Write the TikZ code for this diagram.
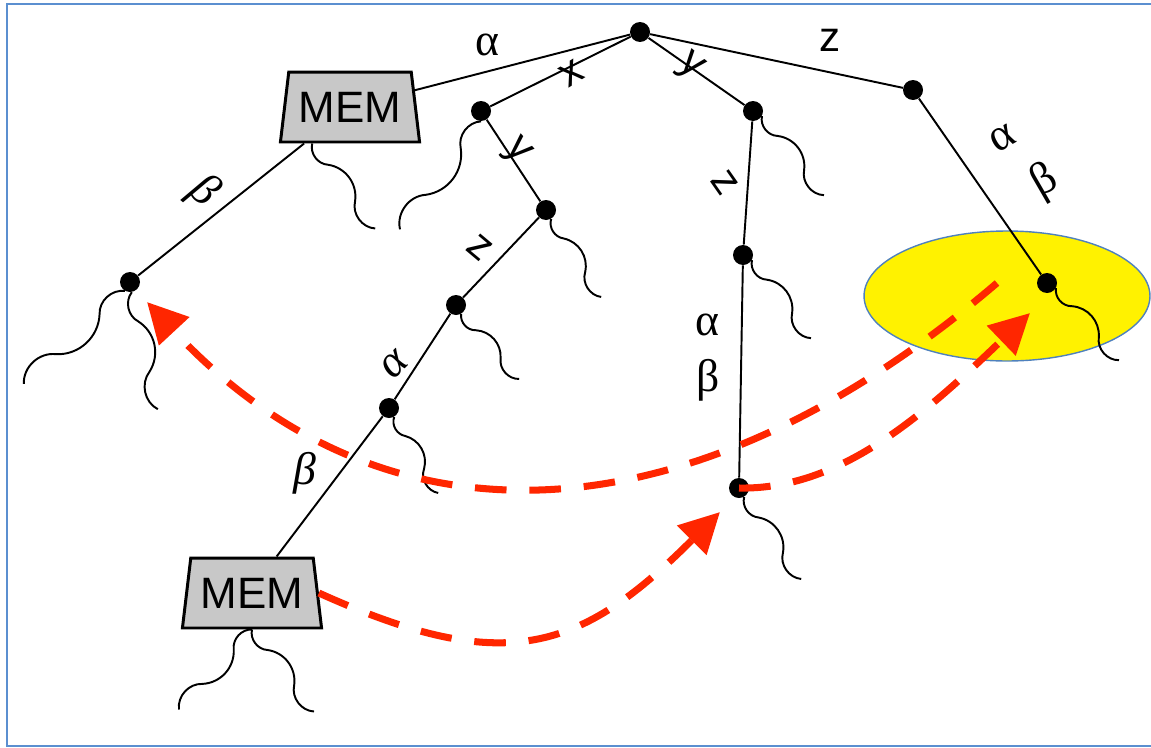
\documentclass[tikz,border=0pt]{standalone}
\usepackage{fontspec}
\setmainfont{Liberation Sans}
\newfontfamily\grkfont{Liberation Serif}
\usetikzlibrary{arrows.meta,calc,shapes.geometric}
\definecolor{JumpClr}{RGB}{255,38,0}
\definecolor{FrameClr}{RGB}{91,143,208}
\definecolor{RingClr}{RGB}{79,129,189}
\definecolor{MemClr}{RGB}{200,200,200}

% wavy hair hanging from a point: start, offset
\newcommand\wisp[2]{\draw[wisp] (#1) to[bend right=50] ($(#1)+0.25*(#2)$)
  to[bend left=45] ($(#1)+0.68*(#2)$) to[bend right=50] ($(#1)+(#2)$);}

\begin{document}
\begin{tikzpicture}[x=0.02cm,y=-0.02cm,
  dot/.style={circle,fill=black,inner sep=0pt,minimum size=0.4cm},
  mem/.style={trapezium,trapezium stretches=true,trapezium left angle=77,
    trapezium right angle=77,draw=black,line width=1.7pt,fill=MemClr,
    minimum width=2.8cm,minimum height=1.4cm,inner sep=0pt,
    font=\fontsize{25}{29}\selectfont},
  branch/.style={line width=1.1pt},
  wisp/.style={line width=1.1pt},
  jump/.style={JumpClr,line width=4pt,dash pattern=on 18pt off 13pt,
    -{Triangle[length=0.8cm,width=0.8cm]}},
  lbl/.style={inner sep=0pt,font=\fontsize{24}{28}\selectfont},
  glbl/.style={inner sep=0pt,font=\grkfont\fontsize{26}{30}\selectfont},
  ilbl/.style={inner sep=0pt,font=\grkfont\itshape\fontsize{26}{30}\selectfont}]
\useasboundingbox (0,0) rectangle (1151,747);
\draw[FrameClr,line width=1.6pt] (7,4) rectangle (1170,746);

% highlighted region
\node[ellipse,draw=RingClr,fill=yellow,line width=0.8pt,
  minimum width=5.72cm,minimum height=2.6cm] (ring) at (1007,296) {};

% tree nodes
\node[dot] (root) at (640,32) {};
\node[mem] (memA) at (350,107) {MEM};
\node[dot] (nx) at (481,111) {};
\node[dot] (ny) at (753,111) {};
\node[dot] (nz) at (913,90) {};
\node[dot] (nxy) at (546,210) {};
\node[dot] (nxyz) at (456,305) {};
\node[dot] (nxyza) at (389,408) {};
\node[mem] (memB) at (252,593) {MEM};
\node[dot] (nab) at (130,282) {};
\node[dot] (nyz) at (743,255) {};
\node[dot] (nyzab) at (739,488) {};
\node[dot] (nzab) at (1047,283) {};

% branches
\draw[branch] (root) -- (memA);
\draw[branch] (root) -- (nx);
\draw[branch] (root) -- (ny);
\draw[branch] (root) -- (nz);
\draw[branch] (nx) -- (nxy);
\draw[branch] (nxy) -- (nxyz);
\draw[branch] (nxyz) -- (nxyza);
\draw[branch] (nxyza) -- (memB.56);
\draw[branch] (memA) -- (nab);
\draw[branch] (ny) -- (nyz);
\draw[branch] (nyz) -- (nyzab);
\draw[branch] (nz) -- (nzab);

% hairs
\wisp{memA.-136}{63,85}
\wisp{nx.south}{-81,108}
\wisp{nxy.-60}{50,78}
\wisp{nxyz.-60}{58,65}
\wisp{nxyza.-60}{44,76}
\wisp{nab.-120}{-101,93}
\wisp{nab.-80}{26,117}
\wisp{ny.-30}{62,79}
\wisp{nyz.-30}{59,78}
\wisp{nyzab.-60}{57,82}
\wisp{nzab.-30}{63,72}
\wisp{memB.south}{-73,80}
\wisp{memB.south}{62,82}

% edge labels
\node[glbl] (lA) at (487,45) {α};
\node[lbl,rotate=32] (lx) at (572,73) {x};
\node[lbl,rotate=-40] (ly) at (690,67) {y};
\node[lbl] (lz) at (830,40) {z};
\node[lbl,rotate=-48] (lxy) at (517,152) {y};
\node[lbl,rotate=-40] (lxyz) at (480,248) {z};
\node[ilbl,rotate=45] (lxyza) at (395,365) {α};
\node[ilbl] (lxyzab) at (305,473) {β};
\node[ilbl,rotate=-40] (lAb) at (203,192) {β};
\node[lbl,rotate=-55] (lyz) at (725,183) {z};
\node[glbl] (lyza) at (707,325) {α};
\node[glbl] (lyzb) at (708,380) {β};
\node[glbl,rotate=30] (lza) at (1003,138) {α};
\node[glbl,rotate=30] (lzb) at (1045,182) {β};

% jumps
\coordinate (s1) at (997,283);
\coordinate (t1) at (147,302);
\coordinate (t2) at (1030,313);
\coordinate (t3) at (720,512);
\draw[jump] (s1) .. controls +(-304,260) and +(238,256) .. (t1);
\draw[jump] (nyzab.center) .. controls +(100,2) and +(-108,104) .. (t2);
\draw[jump] (memB.east) .. controls +(186,84) and +(-140,140) .. (t3);
\end{tikzpicture}
\end{document}
